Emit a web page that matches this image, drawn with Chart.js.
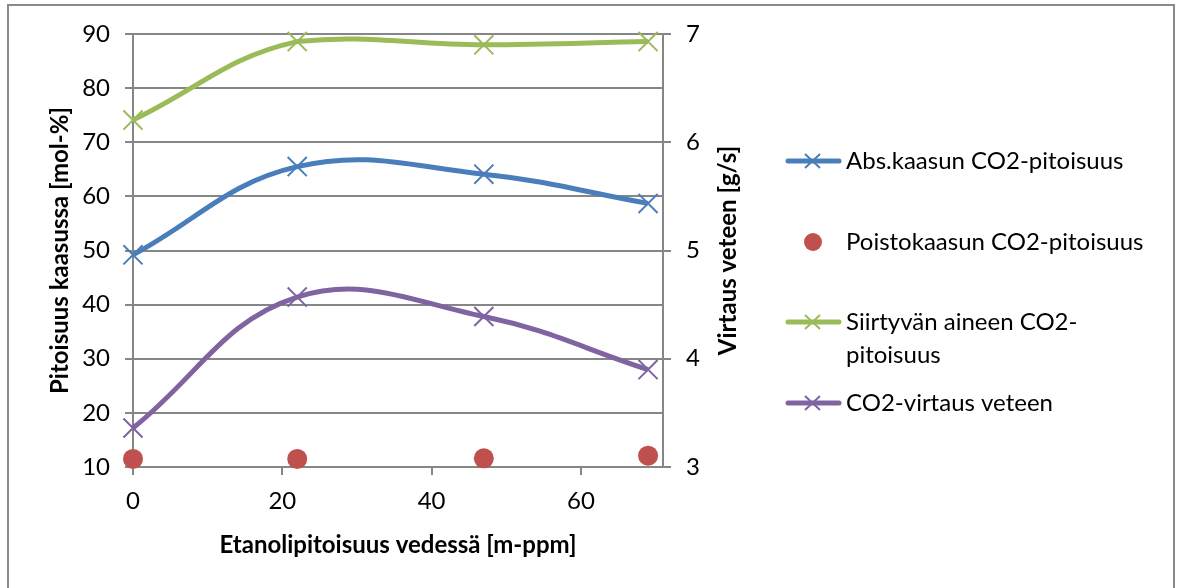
<!DOCTYPE html>
<html>
<head>
<meta charset="utf-8">
<script src="https://cdn.jsdelivr.net/npm/chart.js@4/dist/chart.umd.min.js"></script>
<style>
  html, body { margin: 0; padding: 0; background: #fff; overflow: hidden; }
  #frame { position: absolute; left: 7px; top: 4px; width: 1164px; height: 640px; border: 2px solid #8a8a8a; }
  #chart { position: absolute; left: 0; top: 0; }
</style>
</head>
<body>
<div id="frame"></div>
<canvas id="chart" width="1179" height="588"></canvas>
<script>
// etanolipitoisuus [m-ppm]
const etanoli = [0, 22, 47, 69];
const absKaasu = [49.2, 65.5, 64.1, 58.7];
const poistoKaasu = [11.5, 11.5, 11.6, 12.1];
const siirtyva = [74.1, 88.6, 88.0, 88.6];
const virtaus = [3.36, 4.57, 4.39, 3.9];

const sarjat = [
  "Abs.kaasun CO2-pitoisuus",
  "Poistokaasun CO2-pitoisuus",
  "Siirtyvän aineen CO2-pitoisuus",
  "CO2-virtaus veteen",
];

const GRID = "#868686";
const FONT = "Lato";

function pisteet(ys) {
  return etanoli.map((x, i) => ({ x: x, y: ys[i] }));
}

function viiva(label, ys, color, axis) {
  return {
    label: label,
    data: pisteet(ys),
    yAxisID: axis,
    showLine: true,
    borderColor: color,
    backgroundColor: color,
    borderWidth: 5,
    tension: 0.4,
    pointStyle: "crossRot",
    pointRadius: 13.5,
    pointBorderWidth: 2,
    pointBorderColor: color,
    clip: false,
  };
}

// selite oikealla + oikean akselin otsikko
const legendRows = [161, 242, 322, 403];
const sivuSelite = {
  id: "sivuSelite",
  afterDraw(chart) {
    const ctx = chart.ctx;
    ctx.save();
    // oikean akselin otsikko (luetaan alhaalta ylös)
    const area = chart.chartArea;
    ctx.translate(728, (area.top + area.bottom) / 2);
    ctx.rotate(-Math.PI / 2);
    ctx.font = "bold 24px " + FONT;
    ctx.fillStyle = "#000";
    ctx.textAlign = "center";
    ctx.textBaseline = "middle";
    ctx.fillText("Virtaus veteen [g/s]", 0, 0);
    ctx.restore();

    ctx.save();
    ctx.font = "24px " + FONT;
    ctx.textBaseline = "middle";
    ctx.textAlign = "left";
    chart.data.datasets.forEach((ds, i) => {
      const y = legendRows[i];
      const c = ds.borderColor;
      if (ds.showLine) {
        ctx.strokeStyle = c;
        ctx.lineWidth = 5;
        ctx.lineCap = "round";
        ctx.beginPath();
        ctx.moveTo(788, y);
        ctx.lineTo(839, y);
        ctx.stroke();
        ctx.lineWidth = 2;
        ctx.lineCap = "butt";
        ctx.beginPath();
        ctx.moveTo(805, y - 7);
        ctx.lineTo(820, y + 7);
        ctx.moveTo(805, y + 7);
        ctx.lineTo(820, y - 7);
        ctx.stroke();
      } else {
        ctx.fillStyle = c;
        ctx.beginPath();
        ctx.arc(813, y, 9, 0, Math.PI * 2);
        ctx.fill();
      }
      ctx.fillStyle = "#000";
      // rivitys
      const sanat = ds.label.match(/[^\s-]+-?\s*/g);
      const rivit = [];
      let rivi = "";
      sanat.forEach((s) => {
        if (rivi && ctx.measureText((rivi + s).trim()).width > 315) {
          rivit.push(rivi.trim());
          rivi = s;
        } else {
          rivi += s;
        }
      });
      rivit.push(rivi.trim());
      rivit.forEach((r, k) => ctx.fillText(r, 846, y + k * 33));
    });
    ctx.restore();
  },
};

Chart.defaults.font.family = FONT;
Chart.defaults.color = "#000";

new Chart(document.getElementById("chart"), {
  type: "scatter",
  data: {
    datasets: [
      viiva(sarjat[0], absKaasu, "#4A7EBB", "y"),
      {
        label: sarjat[1],
        data: pisteet(poistoKaasu),
        yAxisID: "y",
        showLine: false,
        borderColor: "#C0504D",
        backgroundColor: "#C0504D",
        pointStyle: "circle",
        pointRadius: 10,
        pointBorderWidth: 0,
        clip: false,
      },
      viiva(sarjat[2], siirtyva, "#9BBB59", "y"),
      viiva(sarjat[3], virtaus, "#8064A2", "y2"),
    ],
  },
  options: {
    responsive: false,
    animation: false,
    layout: { padding: { left: 0, top: 34, right: 432, bottom: 0 } },
    plugins: { legend: { display: false }, tooltip: { enabled: false } },
    scales: {
      x: {
        type: "linear",
        min: 0,
        max: 71,
        afterFit: (s) => { s.height = 121; },
        ticks: { stepSize: 20, includeBounds: false, padding: 12, font: { size: 24 } },
        grid: { drawOnChartArea: false, tickLength: 8, color: GRID, lineWidth: 2 },
        border: { color: GRID, width: 2 },
        title: {
          display: true,
          text: "Etanolipitoisuus vedessä [m-ppm]",
          font: { size: 24, weight: "bold" },
          padding: { top: 4, bottom: 28 },
        },
      },
      y: {
        position: "left",
        min: 10,
        max: 90,
        afterFit: (s) => { s.width = 133; },
        ticks: { stepSize: 10, padding: 15, font: { size: 24 } },
        grid: { tickLength: 8, color: GRID, lineWidth: 2 },
        border: { color: GRID, width: 2 },
        title: {
          display: true,
          text: "Pitoisuus kaasussa [mol-%]",
          font: { size: 24, weight: "bold" },
          padding: { top: 46, bottom: 4 },
        },
      },
      y2: {
        position: "right",
        min: 3,
        max: 7,
        afterFit: (s) => { s.width = 84; },
        ticks: { stepSize: 1, padding: 15, font: { size: 24 } },
        grid: { drawOnChartArea: false, tickLength: 8, color: GRID, lineWidth: 2 },
        border: { color: GRID, width: 2 },
      },
    },
  },
  plugins: [sivuSelite],
});
</script>
</body>
</html>
